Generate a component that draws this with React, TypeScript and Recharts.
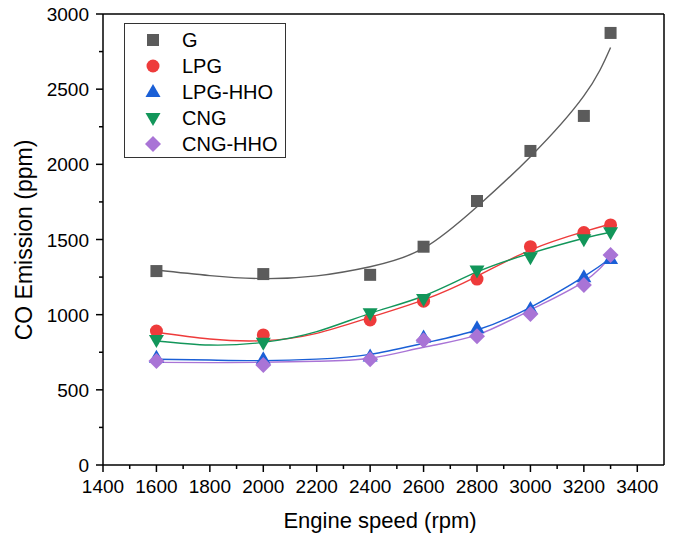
import React from 'react'
import { ComposedChart, Line, Scatter, XAxis, YAxis } from 'recharts'

// measured points
const speeds = [1600, 2000, 2400, 2600, 2800, 3000, 3200, 3300]
const gValues = [1290, 1270, 1265, 1452, 1756, 2089, 2322, 2874]
const lpgValues = [891, 865, 965, 1090, 1237, 1452, 1546, 1597]
const lpgHhoValues = [714, 703, 721, 848, 910, 1038, 1249, 1370]
const cngValues = [832, 814, 1009, 1104, 1293, 1382, 1501, 1548]
const cngHhoValues = [692, 665, 703, 830, 857, 1005, 1198, 1397]

// fitted trend curves, sampled along the speed range
const fitSpeeds = [1600, 1800, 2000, 2200, 2400, 2600, 2800, 3000, 3200, 3300]
const gFit = [1297, 1260, 1240, 1258, 1319, 1442, 1718, 2051, 2455, 2777]
const lpgFit = [883, 838, 827, 876, 982, 1098, 1255, 1430, 1552, 1603]
const lpgHhoFit = [703, 698, 694, 704, 736, 810, 898, 1049, 1253, 1375]
const cngFit = [825, 798, 816, 887, 1009, 1124, 1284, 1408, 1508, 1548]
const cngHhoFit = [683, 681, 683, 690, 710, 783, 865, 1031, 1220, 1390]

const xTicks = [1400, 1500, 1600, 1700, 1800, 1900, 2000, 2100, 2200, 2300, 2400, 2500, 2600, 2700, 2800, 2900, 3000, 3100, 3200, 3300, 3400]
const yTicks = [0, 250, 500, 750, 1000, 1250, 1500, 1750, 2000, 2250, 2500, 2750, 3000]

const FONT = '"Liberation Sans", Arial, sans-serif'

type ShapeKind = 'square' | 'circle' | 'up' | 'down' | 'diamond'

function Marker({ kind, cx, cy, fill }: { kind: ShapeKind; cx: number; cy: number; fill: string }) {
  switch (kind) {
    case 'square':
      return <rect x={cx - 6} y={cy - 6} width={12} height={12} fill={fill} />
    case 'circle':
      return <circle cx={cx} cy={cy} r={6.5} fill={fill} />
    case 'up':
      return <polygon points={`${cx},${cy - 8} ${cx + 7.5},${cy + 5} ${cx - 7.5},${cy + 5}`} fill={fill} />
    case 'down':
      return <polygon points={`${cx},${cy + 8} ${cx + 7.5},${cy - 5} ${cx - 7.5},${cy - 5}`} fill={fill} />
    default:
      return <polygon points={`${cx},${cy - 8} ${cx + 8},${cy} ${cx},${cy + 8} ${cx - 8},${cy}`} fill={fill} />
  }
}

const series = [
  { name: 'G', values: gValues, fit: gFit, color: '#5b5b5b', line: '#5e5e5e', kind: 'square' as ShapeKind },
  { name: 'LPG', values: lpgValues, fit: lpgFit, color: '#ee3b3b', line: '#ee3b3b', kind: 'circle' as ShapeKind },
  { name: 'LPG-HHO', values: lpgHhoValues, fit: lpgHhoFit, color: '#1a5fd6', line: '#1a5fd6', kind: 'up' as ShapeKind },
  { name: 'CNG', values: cngValues, fit: cngFit, color: '#12965a', line: '#12965a', kind: 'down' as ShapeKind },
  { name: 'CNG-HHO', values: cngHhoValues, fit: cngHhoFit, color: '#a974d6', line: '#a974d6', kind: 'diamond' as ShapeKind },
]

function XTick(props: any) {
  const { x, y, payload } = props
  const v = payload.value as number
  const major = v % 200 === 0
  return (
    <g>
      <line x1={x} x2={x} y1={y} y2={y + (major ? 7 : 4)} stroke="#000" strokeWidth={1.5} />
      {major && (
        <text x={x} y={y + 28} textAnchor="middle" fontSize={19} fontFamily={FONT} fill="#000">
          {v}
        </text>
      )}
    </g>
  )
}

function YTick(props: any) {
  const { x, y, payload } = props
  const v = payload.value as number
  const major = v % 500 === 0
  return (
    <g>
      <line x1={x} x2={x - (major ? 7 : 4)} y1={y} y2={y} stroke="#000" strokeWidth={1.5} />
      {major && (
        <text x={x - 14} y={y + 7} textAnchor="end" fontSize={19} fontFamily={FONT} fill="#000">
          {v}
        </text>
      )}
    </g>
  )
}

function LegendBox() {
  return (
    <div
      style={{
        position: 'absolute',
        left: 124,
        top: 23,
        width: 162,
        height: 135,
        border: '1.5px solid #333',
        background: '#fff',
        boxSizing: 'border-box',
        fontFamily: FONT,
        fontSize: 20,
        paddingTop: 3,
      }}
    >
      {series.map(s => (
        <div key={s.name} style={{ display: 'flex', alignItems: 'center', height: 26 }}>
          <svg width={57} height={20} style={{ flex: 'none' }}>
            <Marker kind={s.kind} cx={28} cy={10} fill={s.color} />
          </svg>
          <span style={{ lineHeight: '20px' }}>{s.name}</span>
        </div>
      ))}
    </div>
  )
}

export default function App() {
  return (
    <div style={{ position: 'absolute', left: 0, top: 0, width: 674, height: 539, background: '#fff' }}>
      <ComposedChart width={674} height={539} margin={{ top: 13, right: 9, bottom: 4, left: 3 }}>
        <XAxis
          dataKey="x"
          type="number"
          domain={[1400, 3500]}
          ticks={xTicks}
          interval={0}
          tickSize={0}
          tickMargin={0}
          tickLine={false}
          height={70}
          axisLine={{ stroke: '#000', strokeWidth: 1.5 }}
          tick={<XTick />}
          label={{
            content: () => (
              <text x={380} y={528} textAnchor="middle" fontSize={22} fontFamily={FONT} fill="#000">
                Engine speed (rpm)
              </text>
            ),
          }}
        />
        <XAxis
          xAxisId="top"
          orientation="top"
          type="number"
          domain={[1400, 3500]}
          tick={false}
          tickLine={false}
          height={1}
          axisLine={{ stroke: '#000', strokeWidth: 1.5 }}
        />
        <YAxis
          type="number"
          domain={[0, 3000]}
          ticks={yTicks}
          interval={0}
          tickSize={0}
          tickMargin={0}
          tickLine={false}
          width={100}
          axisLine={{ stroke: '#000', strokeWidth: 1.5 }}
          tick={<YTick />}
          label={{
            content: () => (
              <text
                x={32}
                y={240}
                transform="rotate(-90 32 240)"
                textAnchor="middle"
                fontSize={23}
                fontFamily={FONT}
                fill="#000"
              >
                CO Emission (ppm)
              </text>
            ),
          }}
        />
        <YAxis
          yAxisId="right"
          orientation="right"
          type="number"
          domain={[0, 3000]}
          tick={false}
          tickLine={false}
          width={1}
          axisLine={{ stroke: '#000', strokeWidth: 1.5 }}
        />
        {series.map(s => (
          <Line
            key={`${s.name}-fit`}
            data={fitSpeeds.map((x, i) => ({ x, y: s.fit[i] }))}
            dataKey="y"
            type="natural"
            stroke={s.line}
            strokeWidth={1.4}
            dot={false}
            activeDot={false}
            isAnimationActive={false}
          />
        ))}
        {series.map(s => (
          <Scatter
            key={s.name}
            name={s.name}
            data={speeds.map((x, i) => ({ x, y: s.values[i] }))}
            dataKey="y"
            fill={s.color}
            shape={(p: any) => <Marker kind={s.kind} cx={p.cx} cy={p.cy} fill={s.color} />}
            isAnimationActive={false}
          />
        ))}
      </ComposedChart>
      <LegendBox />
    </div>
  )
}
